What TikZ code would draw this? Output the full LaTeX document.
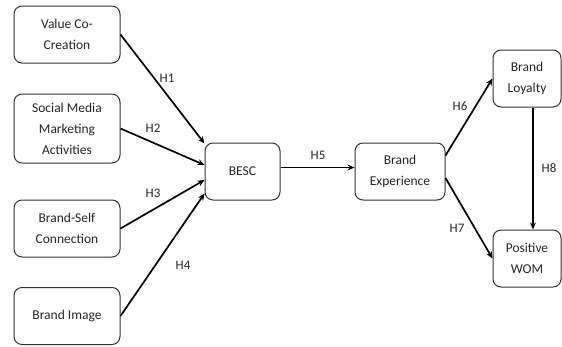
\documentclass[tikz,border=0pt]{standalone}
\usepackage{fontspec}
\setmainfont{Carlito}
\usetikzlibrary{arrows.meta}
\begin{document}
\begin{tikzpicture}[x=1pt,y=-1pt,
  box/.style={draw=black!80, line width=1pt, rounded corners=8pt, align=center,
    inner sep=0pt, text=black!85, font=\fontsize{13.5}{21}\selectfont},
  conn/.style={line width=1.7pt, -{Stealth[length=7pt,width=6pt]}},
  lab/.style={font=\fontsize{13}{15}\selectfont, text=black!85, inner sep=0pt}]
\useasboundingbox (0,0) rectangle (562,346);
\node[box, minimum width=106pt, minimum height=57pt] (vcc) at (67,34.5) {Value Co-\\Creation};
\node[box, minimum width=106pt, minimum height=69pt] (smm) at (67,128.5) {Social Media\\Marketing\\Activities};
\node[box, minimum width=106pt, minimum height=57pt] (bsc) at (67,228.5) {Brand-Self\\Connection};
\node[box, minimum width=106pt, minimum height=57pt] (bi) at (67,316) {Brand Image};
\node[box, minimum width=75pt, minimum height=57pt] (besc) at (242.5,171.5) {BESC};
\node[box, minimum width=90pt, minimum height=57pt] (be) at (400,171.5) {Brand\\Experience};
\node[box, minimum width=68pt, minimum height=57pt] (bl) at (527,78.5) {Brand\\Loyalty};
\node[box, minimum width=68pt, minimum height=57pt] (wom) at (527,258.5) {Positive\\WOM};

\draw[conn] (vcc.east) -- ([yshift=28pt]besc.west);
\draw[conn] (smm.east) -- ([yshift=6.5pt]besc.west);
\draw[conn] (bsc.east) -- ([yshift=-8.5pt]besc.west);
\draw[conn] (bi.east) -- ([yshift=-22pt]besc.west);
\draw[conn] ([yshift=4pt]besc.east) -- ([yshift=4pt]be.west);
\draw[conn] ([yshift=16pt]be.east) -- (bl.west);
\draw[conn] ([yshift=-6.5pt]be.east) -- (wom.west);
\draw[conn] ([xshift=6pt]bl.south) -- ([xshift=6pt]wom.north);

\node[lab] (h1) at (167,78) {H1};
\node[lab] (h2) at (153,128) {H2};
\node[lab] (h3) at (153,193) {H3};
\node[lab] (h4) at (183,265) {H4};
\node[lab] (h5) at (318,155) {H5};
\node[lab] (h6) at (460,106) {H6};
\node[lab] (h7) at (457,228) {H7};
\node[lab] (h8) at (549,168) {H8};
\end{tikzpicture}
\end{document}
